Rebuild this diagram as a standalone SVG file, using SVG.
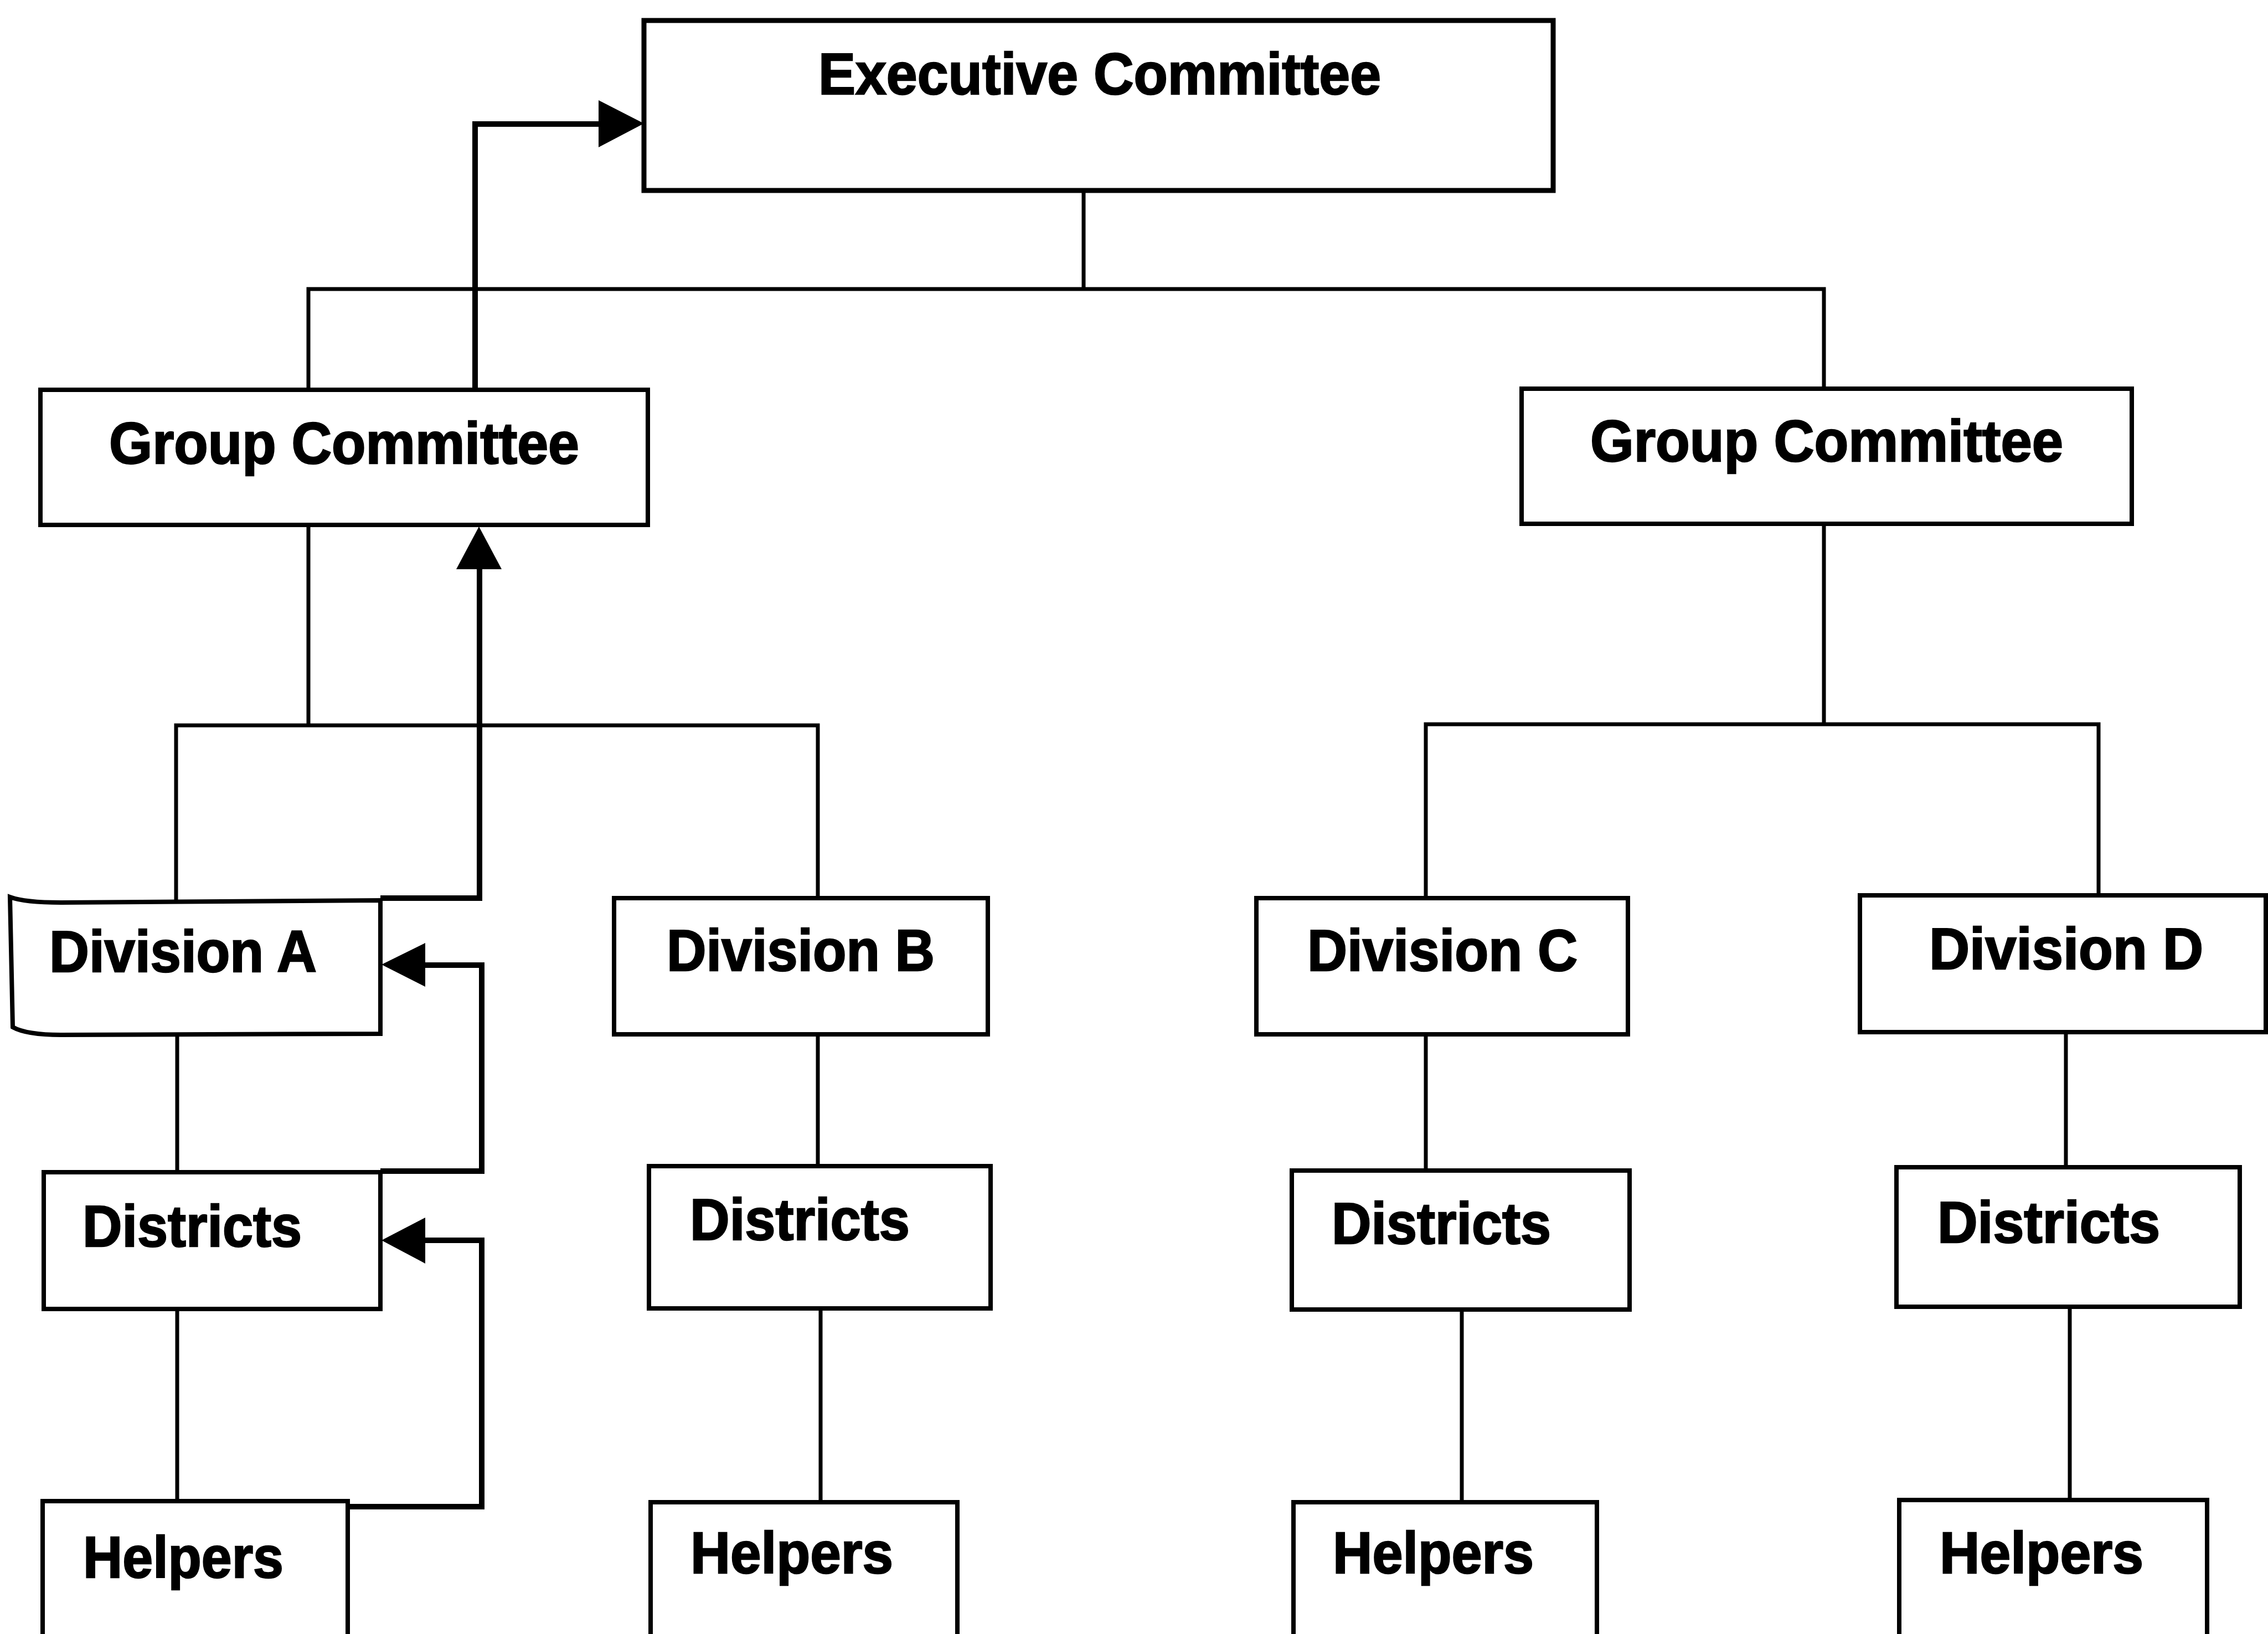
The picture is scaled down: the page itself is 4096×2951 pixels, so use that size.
<svg xmlns="http://www.w3.org/2000/svg" width="4096" height="2951" viewBox="0 0 4096 2951">
<style>
.box{fill:#fff;stroke:#000;stroke-width:8;stroke-linejoin:miter}
.ln{fill:none;stroke:#000;stroke-width:7;stroke-linecap:square}
.arr{fill:none;stroke:#000;stroke-width:10;stroke-linejoin:miter}
.head{fill:#000;stroke:none}
.t{font-family:"Liberation Sans",Arial,Helvetica,sans-serif;font-weight:bold;font-size:106px;fill:#000;stroke:#000;stroke-width:2.5}
</style>
<rect width="4096" height="2951" fill="#fff"/>
<g id="connectors">
<path class="ln" d="M1957,344 V522 M557,522 H3294 M557,522 V704 M3294,522 V702"/>
<path class="ln" d="M557,948 V1310 M318,1310 H1477 M318,1310 V1628 M1477,1310 V1622"/>
<path class="ln" d="M3294,946 V1308 M2575,1308 H3790 M2575,1308 V1622 M3790,1308 V1617"/>
<path class="ln" d="M320,1869 V2117 M1477,1868 V2106 M2575,1868 V2114 M3731,1864 V2108"/>
<path class="ln" d="M320,2364 V2722 M1482,2363 V2716 M2640,2365 V2716 M3738,2360 V2712"/>
<path class="arr" d="M858,704 V224 H1090"/>
<polygon class="head" points="1163,223 1081,181 1081,266"/>
<path class="arr" d="M687,1622 H866 V1020"/>
<polygon class="head" points="865,951 824,1028 906,1028"/>
<path class="arr" d="M687,2115 H870 V1743 H760"/>
<polygon class="head" points="689,1742 768,1703 768,1782"/>
<path class="arr" d="M628,2721 H870 V2240 H760"/>
<polygon class="head" points="689,2240 768,2199 768,2282"/>
</g>
<g id="executive-committee">
<rect class="box" x="1163" y="37" width="1642" height="307" style="stroke-width:9"/>
<text class="t" x="1478" y="170" textLength="1016" lengthAdjust="spacingAndGlyphs">Executive Committee</text>
</g>
<g id="group-committee-left">
<rect class="box" x="73" y="704" width="1097" height="244"/>
<text class="t" x="197" y="837" textLength="849" lengthAdjust="spacingAndGlyphs">Group Committee</text>
</g>
<g id="group-committee-right">
<rect class="box" x="2748" y="702" width="1102" height="244"/>
<text class="t" x="2872" y="833" textLength="854" lengthAdjust="spacingAndGlyphs">Group Committee</text>
</g>
<g id="division-a">
<path class="box" d="M18,1620 Q45,1630 110,1630 L687,1626 L687,1867 L110,1869 Q48,1869 23,1855 Z"/>
<text class="t" x="89" y="1755" textLength="483" lengthAdjust="spacingAndGlyphs">Division A</text>
</g>
<g id="division-b">
<rect class="box" x="1109" y="1622" width="675" height="246"/>
<text class="t" x="1204" y="1753" textLength="484" lengthAdjust="spacingAndGlyphs">Division B</text>
</g>
<g id="division-c">
<rect class="box" x="2269" y="1622" width="671" height="246"/>
<text class="t" x="2361" y="1753" textLength="488" lengthAdjust="spacingAndGlyphs">Division C</text>
</g>
<g id="division-d">
<rect class="box" x="3359" y="1617" width="733" height="247"/>
<text class="t" x="3484" y="1750" textLength="495" lengthAdjust="spacingAndGlyphs">Division D</text>
</g>
<g id="districts-a">
<rect class="box" x="79" y="2117" width="608" height="247"/>
<text class="t" x="149" y="2251" textLength="396" lengthAdjust="spacingAndGlyphs">Districts</text>
</g>
<g id="districts-b">
<rect class="box" x="1172" y="2106" width="617" height="257"/>
<text class="t" x="1246" y="2239" textLength="397" lengthAdjust="spacingAndGlyphs">Districts</text>
</g>
<g id="districts-c">
<rect class="box" x="2333" y="2114" width="610" height="251"/>
<text class="t" x="2405" y="2246" textLength="396" lengthAdjust="spacingAndGlyphs">Districts</text>
</g>
<g id="districts-d">
<rect class="box" x="3425" y="2108" width="620" height="252"/>
<text class="t" x="3499" y="2244" textLength="402" lengthAdjust="spacingAndGlyphs">Districts</text>
</g>
<g id="helpers-a">
<rect class="box" x="77" y="2711" width="551" height="300"/>
<text class="t" x="150" y="2849" textLength="362" lengthAdjust="spacingAndGlyphs">Helpers</text>
</g>
<g id="helpers-b">
<rect class="box" x="1175" y="2713" width="554" height="300"/>
<text class="t" x="1247" y="2841" textLength="366" lengthAdjust="spacingAndGlyphs">Helpers</text>
</g>
<g id="helpers-c">
<rect class="box" x="2336" y="2713" width="548" height="300"/>
<text class="t" x="2407" y="2841" textLength="363" lengthAdjust="spacingAndGlyphs">Helpers</text>
</g>
<g id="helpers-d">
<rect class="box" x="3430" y="2709" width="556" height="300"/>
<text class="t" x="3503" y="2841" textLength="368" lengthAdjust="spacingAndGlyphs">Helpers</text>
</g>
</svg>
